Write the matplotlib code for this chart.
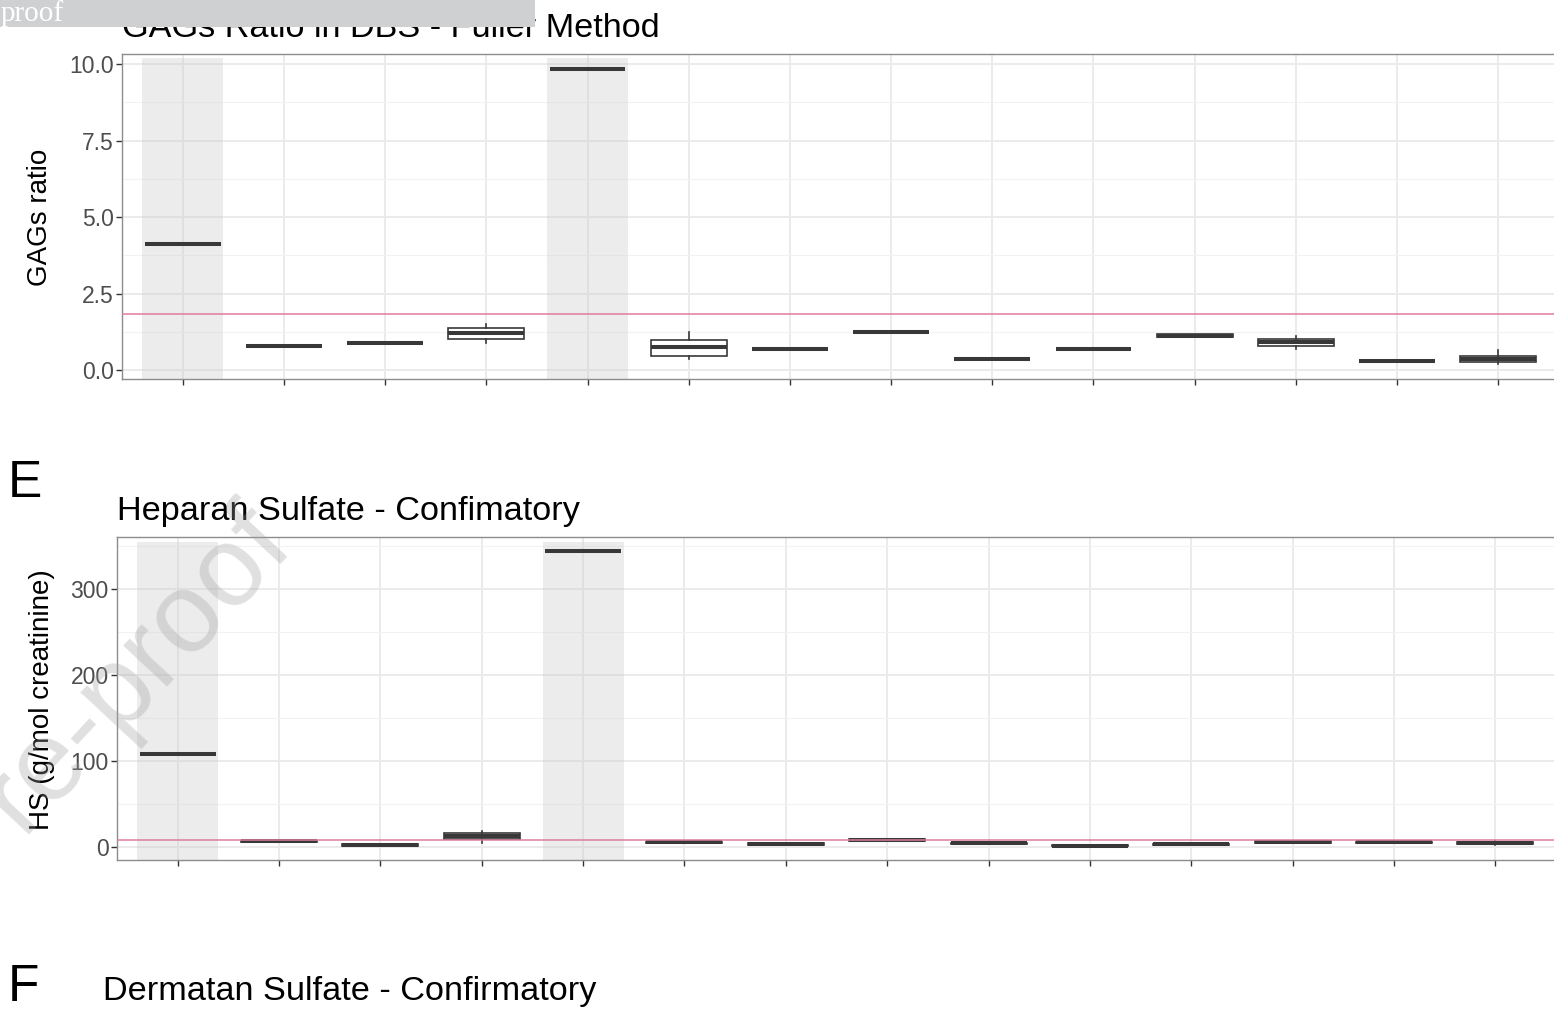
import matplotlib
matplotlib.use("Agg")
import matplotlib.pyplot as plt
from matplotlib.ticker import MultipleLocator, FormatStrFormatter
from matplotlib.patches import Rectangle

plt.rcParams['font.family'] = ['Liberation Sans', 'DejaVu Sans']

W, H = 1554, 1009

groups = list(range(1, 15))
shaded = [1, 5]

# GAGs ratio in DBS (Fuller method): box stats per group
gags_q1 = [4.12, 0.78, 0.88, 1.01, 9.85, 0.46, 0.69, 1.23, 0.35, 0.69, 1.07, 0.79, 0.28, 0.27]
gags_med = [4.12, 0.78, 0.88, 1.20, 9.85, 0.74, 0.69, 1.23, 0.35, 0.69, 1.12, 0.90, 0.28, 0.37]
gags_q3 = [4.12, 0.78, 0.88, 1.36, 9.85, 0.98, 0.69, 1.23, 0.35, 0.69, 1.18, 1.01, 0.28, 0.47]
gags_lo = [4.12, 0.78, 0.88, 0.87, 9.85, 0.35, 0.69, 1.23, 0.35, 0.69, 1.07, 0.69, 0.28, 0.20]
gags_hi = [4.12, 0.78, 0.88, 1.49, 9.85, 1.23, 0.69, 1.23, 0.35, 0.69, 1.18, 1.11, 0.28, 0.65]
gags_cutoff = 1.84
gags_shade_top = 10.2

# Heparan sulfate (g/mol creatinine)
hs_q1 = [108, 5.5, 1.5, 9.0, 343.8, 4.5, 2.5, 7.0, 3.3, 0.8, 2.3, 5.0, 4.5, 3.0]
hs_med = [108, 6.5, 2.3, 12.8, 343.8, 5.5, 3.5, 8.1, 4.3, 1.6, 3.1, 5.8, 5.4, 4.3]
hs_q3 = [108, 7.5, 3.0, 16.7, 343.8, 6.3, 4.3, 9.2, 5.0, 2.4, 3.9, 6.6, 6.2, 5.8]
hs_lo = [108, 5.5, 1.5, 5.0, 343.8, 4.5, 2.5, 7.0, 3.3, 0.8, 2.3, 5.0, 4.5, 2.0]
hs_hi = [108, 7.5, 3.0, 19.0, 343.8, 6.3, 4.3, 9.2, 5.0, 2.4, 3.9, 6.6, 6.2, 7.0]
hs_cutoff = 7.8
hs_shade_top = 354.7

box_col = '#383838'
cut_col = '#E07AA0'


def px_axes(left, right, top, bottom):
    return [left / W, 1 - bottom / H, (right - left) / W, (bottom - top) / H]


def draw_panel(ax, q1, med, q3, lo, hi, cutoff, ylim, major, shade_top):
    ax.set_xlim(0.4, 14.6)
    ax.set_ylim(*ylim)
    ax.set_axisbelow(True)
    ax.yaxis.set_major_locator(MultipleLocator(major))
    ax.yaxis.set_minor_locator(MultipleLocator(major / 2))
    ax.set_xticks(groups)
    ax.grid(True, which='major', color='#EBEBEB', lw=1.4)
    ax.grid(True, which='minor', axis='y', color='#F2F2F2', lw=0.8)

    for g in shaded:
        ax.add_patch(Rectangle((g - 0.4, ylim[0]), 0.8, shade_top - ylim[0],
                               facecolor='#CCCCCC', alpha=0.36, lw=0, zorder=1))

    stats = []
    for a, m, b, l, h in zip(q1, med, q3, lo, hi):
        stats.append({'q1': a, 'med': m, 'q3': b, 'whislo': l, 'whishi': h, 'fliers': []})
    ax.bxp(stats, positions=groups, widths=0.75, showcaps=False, showfliers=False,
           patch_artist=True, manage_ticks=False,
           boxprops=dict(facecolor='white', edgecolor=box_col, lw=1.2),
           medianprops=dict(color=box_col, lw=2.9, solid_capstyle='butt'),
           whiskerprops=dict(color=box_col, lw=1.2),
           zorder=2)

    ax.axhline(cutoff, color=cut_col, lw=1.1, zorder=3)

    for s in ax.spines.values():
        s.set_color('#8C8C8C')
        s.set_linewidth(1.0)
    ax.tick_params(axis='both', which='major', length=4, width=1, color='#333333',
                   labelsize=16.5, labelcolor='#4D4D4D', pad=2)
    ax.tick_params(axis='y', which='minor', length=0)
    ax.tick_params(axis='x', labelbottom=False)


fig = plt.figure(figsize=(W / 100, H / 100), dpi=100)

ax1 = fig.add_axes(px_axes(122, 1559, 54, 379))
draw_panel(ax1, gags_q1, gags_med, gags_q3, gags_lo, gags_hi, gags_cutoff,
           (-0.294, 10.327), 2.5, gags_shade_top)
ax1.yaxis.set_major_formatter(FormatStrFormatter('%.1f'))

ax2 = fig.add_axes(px_axes(117, 1556, 537, 860))
draw_panel(ax2, hs_q1, hs_med, hs_q3, hs_lo, hs_hi, hs_cutoff,
           (-15.1, 360.5), 100, hs_shade_top)

# titles and labels
fig.text(122 / W, 1 - 37 / H, 'GAGs Ratio in DBS - Fuller Method', fontsize=24.7, va='baseline')
fig.text(40 / W, 1 - 217 / H, 'GAGs ratio', rotation=90, fontsize=20, ha='center', va='center')

fig.text(8 / W, 1 - 497 / H, 'E', fontsize=37, va='baseline')
fig.text(117 / W, 1 - 520 / H, 'Heparan Sulfate - Confimatory', fontsize=24.7, va='baseline')
fig.text(42 / W, 1 - 700 / H, 'HS (g/mol creatinine)', rotation=90, fontsize=20,
         ha='center', va='center')

fig.text(8 / W, 1 - 1001 / H, 'F', fontsize=37, va='baseline')
fig.text(103 / W, 1 - 1000 / H, 'Dermatan Sulfate - Confirmatory', fontsize=24.7, va='baseline')

# journal watermark and header strip
fig.text(296 / W, 1 - 548 / H, 'Journal Pre-proof', fontsize=82, color='#A0A0A0', alpha=0.32,
         rotation=47, rotation_mode='anchor', ha='right', va='baseline', zorder=20)
fig.patches.append(Rectangle((0, 1 - 27 / H), 535 / W, 27 / H, transform=fig.transFigure,
                             facecolor='#CFD0D2', lw=0, zorder=30))
fig.text(1 / W, 1 - 21 / H, 'proof', fontsize=21, color='white',
         family=['Liberation Serif', 'DejaVu Serif'], va='baseline', zorder=31)

fig.savefig('out.png', dpi=100)
